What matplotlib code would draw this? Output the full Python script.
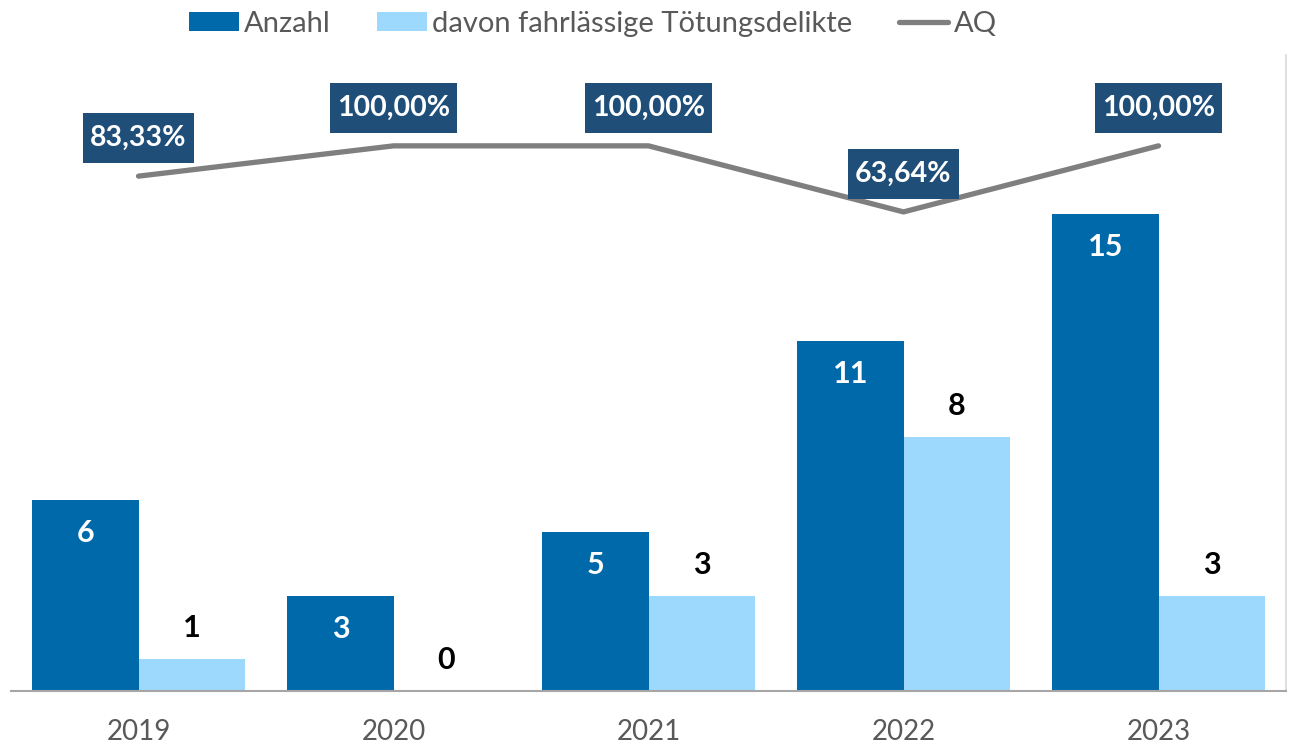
import numpy as np
import matplotlib
matplotlib.use("Agg")
from matplotlib import pyplot as plt
from matplotlib.path import Path

plt.rcParams['font.family'] = ['Lato', 'DejaVu Sans']

years = ['2019', '2020', '2021', '2022', '2023']
anzahl = [6, 3, 5, 11, 15]
fahrl = [1, 0, 3, 8, 3]
aq = [83.33, 100.00, 100.00, 63.64, 100.00]
aq_labels = ['83,33%', '100,00%', '100,00%', '63,64%', '100,00%']

c_dark = '#0069AA'
c_light = '#9DD9FD'
c_line = '#7F7F7F'
c_box = '#1F4E79'
c_txt = '#595959'


def tallbox(x0, y0, width, height, mutation_size):
    # rectangle with more padding up/down than left/right
    px = 0.26 * mutation_size
    py = 0.42 * mutation_size
    xa, xb = x0 - px, x0 + width + px
    ya, yb = y0 - py, y0 + height + py
    return Path([(xa, ya), (xb, ya), (xb, yb), (xa, yb), (xa, ya)], closed=True)


fig = plt.figure(figsize=(12.91, 7.47), dpi=100)
ax = fig.add_axes([11/1291, 1-691/747, 1275/1291, 636/747])
x = np.arange(len(years))
w = 0.416

b1 = ax.bar(x - w/2, anzahl, w, color=c_dark, label='Anzahl')
b2 = ax.bar(x + w/2, fahrl, w, color=c_light, label='davon fahrlässige Tötungsdelikte')
ax.set_xlim(-0.5, 4.5)
ax.set_ylim(0, 20)
ax.set_yticks([])
ax.set_xticks(x)
ax.set_xticklabels(years, fontsize=20, color=c_txt)
ax.tick_params(axis='x', length=0, pad=20.5)
for s in ['left', 'top']:
    ax.spines[s].set_visible(False)
ax.spines['bottom'].set_color('#A6A6A6')
ax.spines['bottom'].set_linewidth(1.5)
ax.spines['right'].set_color('#D9D9D9')
ax.spines['right'].set_linewidth(1.2)

for xi, v in zip(x, anzahl):
    ax.annotate(str(v), (xi - w/2, v), xytext=(0, -33), textcoords='offset pixels',
                ha='center', va='center', color='white', fontsize=22, fontweight='bold')
for xi, v in zip(x, fahrl):
    ax.annotate(str(v), (xi + w/2, v), xytext=(0, 31), textcoords='offset pixels',
                ha='center', va='center', color='black', fontsize=22, fontweight='bold')

ax2 = ax.twinx()
ax2.set_ylim(-200, 150)
ax2.set_yticks([])
for s in ['left', 'top', 'bottom', 'right']:
    ax2.spines[s].set_visible(False)
ln, = ax2.plot(x, aq, color=c_line, lw=3.8, solid_capstyle='round', label='AQ')
for xi, v, t in zip(x, aq, aq_labels):
    ax2.annotate(t, (xi, v), xytext=(0, 38), textcoords='offset pixels',
                 ha='center', va='center', color='white', fontsize=20.5, fontweight='bold',
                 bbox=dict(boxstyle=tallbox, fc=c_box, ec='none'))

fig.legend(handles=[b1, b2, ln], loc='center', bbox_to_anchor=(593/1291, 1-24/747), ncol=3,
           frameon=False, fontsize=21, labelcolor=c_txt, handlelength=1.7, handleheight=0.64,
           handletextpad=0.17, columnspacing=1.6)

fig.savefig('out.png', dpi=100)
